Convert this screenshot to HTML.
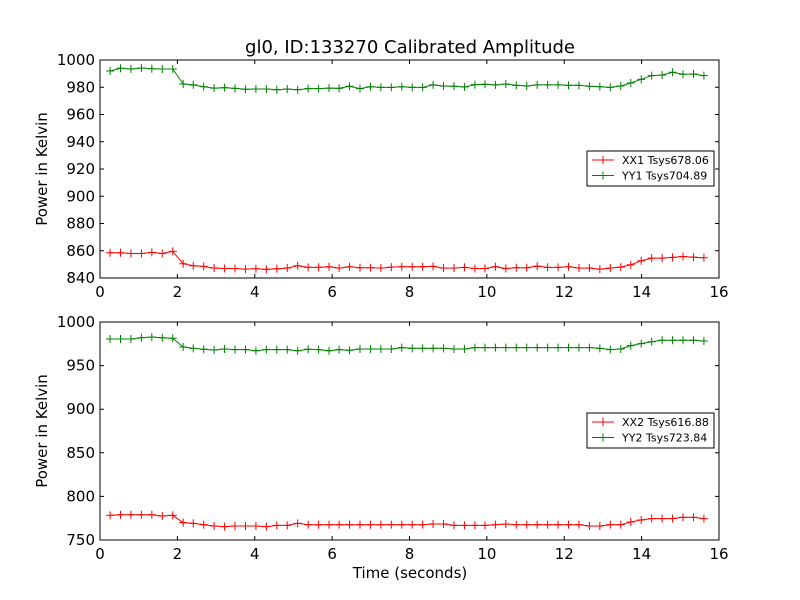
<!DOCTYPE html>
<html><head><meta charset="utf-8"><style>body{margin:0;background:#fff}svg{display:block;font-family:"DejaVu Sans","Liberation Sans",sans-serif}</style></head>
<body>
<svg id="chart" width="800" height="600" xmlns="http://www.w3.org/2000/svg">
<rect width="800" height="600" fill="#fff"/>
</svg>
<script>
const times=[0.26,0.53,0.80,1.07,1.34,1.61,1.88,2.15,2.41,2.68,2.95,3.22,3.49,3.76,4.03,4.30,4.57,4.84,5.11,5.38,5.65,5.92,6.18,6.45,6.72,6.99,7.26,7.53,7.80,8.07,8.34,8.61,8.88,9.15,9.42,9.69,9.95,10.22,10.49,10.76,11.03,11.30,11.57,11.84,12.11,12.38,12.65,12.92,13.19,13.46,13.72,13.99,14.26,14.53,14.80,15.07,15.34,15.61];
const xx1=[858.5,858.5,858,858,858.8,858,859.5,850.5,849,848.5,847.3,847,847,846.5,846.8,846.3,846.8,847.3,849,847.8,847.8,848.3,847.3,848.3,847.5,847.5,847.3,848,848.3,848.3,848.3,848.5,847.3,847.3,847.8,847,847,848.3,847,847.5,847.5,848.7,847.8,847.8,848.3,847.3,847.3,846.5,847.3,848,849.7,852.7,854.6,854.6,855.1,855.8,855.3,854.9];
const yy1=[991.9,993.9,993.4,994.1,993.6,993.4,993.4,982.4,981.7,980.4,979.4,979.7,979.2,978.5,978.7,978.7,978.2,978.7,978.2,979,979,979.4,979.2,980.7,979,980.4,979.9,979.9,980.4,979.9,979.9,981.7,980.9,980.7,980.2,981.9,982.2,981.7,982.4,981.4,980.9,981.7,981.7,981.7,981.4,981.4,980.7,980.4,979.9,980.9,983.1,985.8,988.5,989,991,989.5,989.7,988.5];
const xx2=[778.3,779,779,779,779,777.5,778.3,769.9,769.1,767.6,766.1,765.3,766.1,766.1,766.1,765.3,766.8,766.8,769.1,767.6,767.6,767.6,767.6,767.6,767.6,767.6,767.6,767.6,767.6,767.6,767.6,768.3,768.3,766.8,766.8,766.8,766.8,767.6,768.3,767.6,767.6,767.6,767.6,767.6,767.6,767.6,766.1,766.1,767.6,767.6,770.6,773,774.5,774.5,774.5,776,776,774.5];
const yy2=[980.5,980.5,980.5,982,982.8,982,981.3,971.3,969.8,968.7,967.9,969,968.3,968.3,967.1,968.3,968.3,968.3,967.1,968.7,968.3,967.1,968.3,967.5,969,969,969,969,970.6,969.8,969.8,969.8,969.8,969,969,970.6,970.6,970.6,970.6,970.6,970.6,970.6,970.6,970.6,970.6,970.6,970.6,969.8,968.3,969,972.9,975.2,977.4,979,979,979,979,978.2];
const xTicks=[0,2,4,6,8,10,12,14,16];
const yTicksTop=[840,860,880,900,920,940,960,980,1000];
const yTicksBot=[750,800,850,900,950,1000];
const NS="http://www.w3.org/2000/svg";
const svg=document.getElementById('chart');
function mk(tag,attrs,parent){const e=document.createElementNS(NS,tag);for(const k in attrs)e.setAttribute(k,attrs[k]);(parent||svg).appendChild(e);return e;}
function txt(s,attrs,parent){const e=mk('text',attrs,parent);e.textContent=s;return e;}
function panel(name,top,ymin,ymax,yticks,series,legendY,showXLabel){
  const L=100,R=719,T=top,B=top+218;
  const g=mk('g',{});
  
  
  const sx=v=>L+(v-0)/(16-0)*(R-L);
  const sy=v=>B-(v-ymin)/(ymax-ymin)*(B-T);
  series.forEach(s=>{
    let d='';s.vals.forEach((v,i)=>{d+=(i?'L':'M')+sx(times[i]).toFixed(1)+','+sy(v).toFixed(1);});
    const p=mk('path',{d:d,fill:'none',stroke:s.color,'stroke-width':1},g);
    
    
    s.vals.forEach((v,i)=>{const x=sx(times[i]),y=sy(v);
      const m=mk('path',{d:`M${x-4},${y}H${x+4}M${x},${y-4}V${y+4}`,stroke:s.color,'stroke-width':1},g);
      
      });
  });
  const f=mk('rect',{x:L,y:T,width:R-L,height:B-T,fill:'none',stroke:'#000','stroke-width':1},g);
  
  
  xTicks.forEach(t=>{const x=sx(t);
    mk('path',{d:`M${x},${B}v-4M${x},${T}v4`,stroke:'#000'},g);
    const l=txt(String(t),{x:x,y:B+19,'text-anchor':'middle','font-size':15},g);
    
    });
  yticks.forEach(t=>{const y=sy(t);
    mk('path',{d:`M${L},${y}h4M${R},${y}h-4`,stroke:'#000'},g);
    const l=txt(String(t),{x:L-5,y:y+5,'text-anchor':'end','font-size':15},g);
    
    });
  const yl=txt('Power in Kelvin',{x:0,y:0,transform:`translate(47,${(T+B)/2}) rotate(-90)`,'text-anchor':'middle','font-size':15},g);
  
  
  const lg=mk('g',{},g);
  
  
  mk('rect',{x:587,y:legendY,width:127,height:35,fill:'#fff',stroke:'#000'},lg);
  series.forEach((s,i)=>{const y=legendY+9+i*15.5;
    mk('path',{d:`M592,${y}H614M603,${y-4}V${y+4}`,stroke:s.color},lg);
    const t=txt(s.label,{x:622,y:y+4,'font-size':11},lg);
    
    });
  if(showXLabel){const xl=txt('Time (seconds)',{x:410,y:578,'text-anchor':'middle','font-size':15},g);
    
    }
}
const title=txt('gl0, ID:133270 Calibrated Amplitude',{x:410,y:53,'text-anchor':'middle','font-size':18});


panel('top-panel',60,840,1000,yTicksTop,[{id:'xx1',vals:xx1,color:'#ff0000',label:'XX1 Tsys678.06'},{id:'yy1',vals:yy1,color:'#008000',label:'YY1 Tsys704.89'}],151,false);
panel('bottom-panel',322,750,1000,yTicksBot,[{id:'xx2',vals:xx2,color:'#ff0000',label:'XX2 Tsys616.88'},{id:'yy2',vals:yy2,color:'#008000',label:'YY2 Tsys723.84'}],413,true);
</script>
</body></html>
